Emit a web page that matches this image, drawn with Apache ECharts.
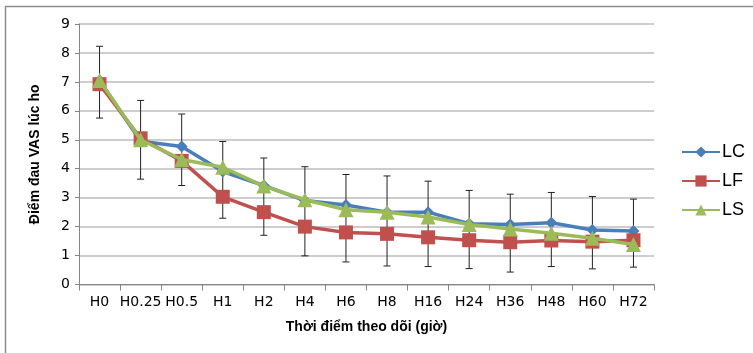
<!DOCTYPE html>
<html>
<head>
<meta charset="utf-8">
<script src="https://cdn.jsdelivr.net/npm/echarts@6/dist/echarts.min.js"></script>
<style>
  html, body { margin: 0; padding: 0; background: #fff; }
  #chart { width: 753px; height: 353px; }
</style>
</head>
<body>
<div id="chart"></div>
<script>
// các mốc thời gian theo dõi
const categories = ['H0', 'H0.25', 'H0.5', 'H1', 'H2', 'H4', 'H6', 'H8', 'H16', 'H24', 'H36', 'H48', 'H60', 'H72']

// điểm VAS trung bình của từng nhóm
const lcValues = [7.05, 4.95, 4.77, 3.9, 3.42, 2.9, 2.75, 2.5, 2.5, 2.1, 2.07, 2.13, 1.88, 1.85]
const lfValues = [6.92, 5.05, 4.27, 3.03, 2.5, 2.0, 1.8, 1.75, 1.63, 1.53, 1.46, 1.52, 1.48, 1.53]
const lsValues = [7.05, 5.0, 4.32, 4.05, 3.4, 2.93, 2.58, 2.5, 2.33, 2.07, 1.92, 1.77, 1.6, 1.38]

// thanh sai số (trên / dưới)
const errHigh = [8.23, 6.36, 5.89, 4.94, 4.37, 4.07, 3.8, 3.75, 3.57, 3.25, 3.12, 3.18, 3.04, 2.95]
const errLow = [5.75, 3.64, 3.42, 2.29, 1.7, 0.99, 0.78, 0.64, 0.62, 0.55, 0.43, 0.62, 0.54, 0.6]

const yTicks = [0, 9, 1]

const chart = echarts.init(document.getElementById('chart'))

const errData = categories.map((c, i) => [i, errLow[i], errHigh[i]])

const option = {
  animation: false,
  backgroundColor: '#fff',
  graphic: [
    {
      type: 'rect',
      shape: { x: 5.5, y: 6.5, width: 800, height: 400 },
      style: { fill: 'none', stroke: '#8c8c8c', lineWidth: 1.5 },
      silent: true,
    },
  ],
  grid: { left: 79, right: 99, top: 24, bottom: 68.5 },
  legend: {
    orient: 'vertical',
    left: 676,
    top: 138,
    itemGap: 11,
    itemWidth: 38,
    itemHeight: 14,
    textStyle: { fontFamily: 'Liberation Sans', fontSize: 18, color: '#000', padding: [0, 0, 0, -3] },
    data: ['LC', 'LF', 'LS'],
  },
  xAxis: {
    type: 'category',
    data: categories,
    name: 'Thời điểm theo dõi (giờ)',
    nameLocation: 'middle',
    nameGap: 36,
    nameTextStyle: { fontFamily: 'Liberation Sans', fontWeight: 'bold', fontSize: 14, color: '#000' },
    axisLine: { lineStyle: { color: '#868686', width: 1 } },
    axisTick: { show: true, length: 6, lineStyle: { color: '#868686' } },
    axisLabel: { interval: 0, margin: 11, fontFamily: 'DejaVu Sans', fontSize: 14, color: '#000' },
  },
  yAxis: {
    type: 'value',
    min: yTicks[0],
    max: yTicks[1],
    interval: yTicks[2],
    name: 'Điểm đau VAS lúc ho',
    nameLocation: 'middle',
    nameGap: 37,
    nameTextStyle: { fontFamily: 'Liberation Sans', fontWeight: 'bold', fontSize: 14, color: '#000' },
    axisLine: { show: true, lineStyle: { color: '#868686', width: 1 } },
    axisTick: { show: true, length: 4, lineStyle: { color: '#868686' } },
    axisLabel: { margin: 9, fontFamily: 'DejaVu Sans', fontSize: 14, color: '#000' },
    splitLine: { lineStyle: { color: '#bdbdbd', width: 1.5 } },
  },
  series: [
    {
      name: 'err',
      type: 'custom',
      z: 1,
      silent: true,
      data: errData,
      renderItem: function (params, api) {
        const x = api.value(0)
        const lo = api.coord([x, api.value(1)])
        const hi = api.coord([x, api.value(2)])
        const cap = 3.5
        const st = { stroke: '#222', lineWidth: 1 }
        return {
          type: 'group',
          children: [
            { type: 'line', shape: { x1: hi[0], y1: hi[1], x2: lo[0], y2: lo[1] }, style: st },
            { type: 'line', shape: { x1: hi[0] - cap, y1: hi[1], x2: hi[0] + cap, y2: hi[1] }, style: st },
            { type: 'line', shape: { x1: lo[0] - cap, y1: lo[1], x2: lo[0] + cap, y2: lo[1] }, style: st },
          ],
        }
      },
    },
    {
      name: 'LC',
      type: 'line',
      z: 3,
      data: lcValues,
      symbol: 'diamond',
      symbolSize: 12,
      color: '#4a7ebb',
      lineStyle: { width: 3.5, color: '#4a7ebb' },
      itemStyle: { color: '#4a7ebb' },
    },
    {
      name: 'LF',
      type: 'line',
      z: 4,
      data: lfValues,
      symbol: 'rect',
      symbolSize: 14,
      color: '#c0504d',
      lineStyle: { width: 3.5, color: '#c0504d' },
      itemStyle: { color: '#c0504d' },
    },
    {
      name: 'LS',
      type: 'line',
      z: 5,
      data: lsValues,
      symbol: 'triangle',
      symbolSize: 15,
      color: '#9bbb59',
      lineStyle: { width: 3.5, color: '#9bbb59' },
      itemStyle: { color: '#9bbb59' },
    },
  ],
}

chart.setOption(option)
</script>
</body>
</html>
